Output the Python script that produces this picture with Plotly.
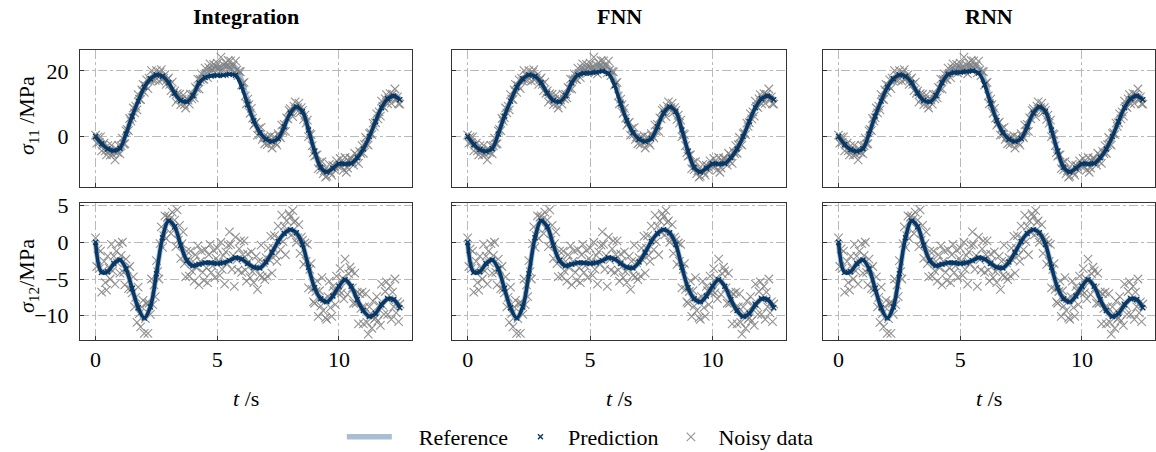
import plotly.graph_objects as go

# ---------------- data ----------------
t_curve = [round(0.25 * i, 2) for i in range(51)]      # 0 .. 12.5 s
t_noisy = [round(0.05 * i, 2) for i in range(251)]     # 0 .. 12.5 s

ref11 = [0.0, -2.3, -4.3, -5.0, -4.0, 0.8, 6.2, 10.8, 15.0, 17.6, 18.8, 18.4, 16.4,
         13.2, 11.0, 10.6, 12.5, 16.5, 19.6, 20.6, 20.9, 21.2, 21.6, 21.0, 17.0, 10.5,
         5.0, 1.2, -0.8, -1.5, -0.6, 3.0, 7.2, 9.0, 7.6, 2.0, -4.5, -9.4, -10.8, -9.7,
         -8.3, -8.4, -8.2, -6.5, -3.8, 0.0, 4.6, 8.8, 11.5, 12.4, 11.2]

pred11_integration = [0.0, -2.2, -3.8, -4.3, -3.6, 0.8, 6.2, 10.8, 15.0, 17.6, 18.8, 18.4,
                      16.4, 13.2, 11.0, 10.6, 12.5, 16.3, 18.0, 18.5, 18.6, 18.7, 19.0,
                      18.7, 15.2, 9.8, 4.8, 1.2, -0.8, -1.5, -0.6, 3.0, 7.2, 9.0, 7.6,
                      2.0, -4.5, -9.4, -10.8, -9.7, -8.3, -8.4, -8.2, -6.5, -3.8, 0.0,
                      4.6, 8.8, 11.5, 12.4, 11.2]

pred11_fnn = [0.0, -2.4, -4.0, -4.5, -3.7, 0.8, 6.2, 10.8, 15.0, 17.6, 18.8, 18.4, 16.4,
              13.2, 11.0, 10.6, 12.5, 16.4, 18.8, 19.3, 19.4, 19.6, 19.9, 19.2, 15.6,
              10.0, 4.9, 1.2, -0.8, -1.5, -0.6, 3.0, 7.2, 9.0, 7.6, 2.0, -4.5, -9.4,
              -10.8, -9.7, -8.3, -8.4, -8.2, -6.5, -3.8, 0.0, 4.6, 8.8, 11.5, 12.4, 11.2]

pred11_rnn = [0.0, -2.4, -4.0, -4.5, -3.7, 0.8, 6.2, 10.8, 15.0, 17.6, 18.8, 18.4, 16.4,
              13.2, 11.0, 10.6, 12.5, 16.4, 19.0, 19.5, 19.6, 19.8, 20.0, 19.4, 15.8,
              10.1, 4.9, 1.2, -0.8, -1.5, -0.6, 3.0, 7.2, 9.0, 7.6, 2.0, -4.5, -9.4,
              -10.8, -9.7, -8.3, -8.4, -8.2, -6.5, -3.8, 0.0, 4.6, 8.8, 11.5, 12.4, 11.2]

ref12 = [0.0, -4.0, -4.0, -2.9, -2.4, -3.6, -6.3, -8.9, -10.3, -8.8, -4.3, 0.6, 2.9,
         2.1, -0.4, -2.5, -3.2, -3.0, -2.8, -2.8, -2.9, -2.8, -2.5, -2.1, -2.3, -2.9,
         -3.4, -3.5, -2.7, -1.4, 0.1, 1.2, 1.7, 1.3, -0.3, -3.4, -6.2, -7.7, -8.1,
         -7.3, -6.0, -5.1, -6.0, -7.8, -9.3, -10.1, -9.7, -8.5, -7.7, -7.8, -8.9]

pred12_integration = [0.0, -4.1, -4.0, -2.9, -2.4, -3.6, -6.3, -8.9, -10.3, -8.8, -4.3,
                      0.6, 2.9, 2.1, -0.4, -2.5, -3.2, -3.0, -2.8, -2.8, -2.9, -2.8,
                      -2.5, -2.1, -2.3, -2.9, -3.4, -3.5, -2.7, -1.4, 0.1, 1.2, 1.7,
                      1.3, -0.3, -3.4, -6.2, -7.7, -8.1, -7.3, -6.0, -5.1, -6.0, -7.8,
                      -9.3, -10.1, -9.7, -8.5, -7.7, -7.8, -8.9]
pred12_fnn = list(pred12_integration)
pred12_rnn = list(pred12_integration)

noisy11 = [
    0.4, -2.0, -0.1, -1.8, -0.1, -4.4, -2.6, -2.0, -4.4, -5.6,
    -2.8, -4.4, -5.7, -2.7, -5.5, -4.3, -7.1, -3.8, -4.8, -2.7,
    -5.3, -2.8, -0.5, -2.3, -2.2, 1.7, 2.2, 1.8, 5.5, 4.7,
    5.8, 8.7, 7.2, 9.3, 8.1, 12.8, 11.4, 11.3, 14.2, 15.9,
    13.5, 15.5, 17.3, 14.6, 17.8, 16.9, 20.1, 17.2, 18.7, 17.1,
    20.1, 18.4, 16.9, 19.6, 20.4, 17.5, 17.8, 18.9, 15.9, 17.4,
    17.9, 15.9, 14.0, 16.6, 13.2, 13.9, 10.5, 13.1, 11.5, 12.9,
    9.7, 11.3, 12.6, 9.7, 8.7, 11.5, 11.1, 9.9, 12.9, 11.5,
    12.9, 11.8, 15.0, 14.6, 17.5, 14.5, 17.4, 19.1, 17.6, 17.4,
    20.9, 19.3, 18.0, 21.0, 22.2, 19.7, 20.4, 22.0, 19.4, 21.4,
    22.4, 21.1, 19.9, 24.2, 20.5, 21.9, 19.1, 22.4, 21.3, 23.2,
    21.2, 23.1, 20.6, 21.7, 19.4, 23.0, 20.3, 18.6, 19.9, 19.7,
    15.7, 16.3, 16.5, 12.4, 10.0, 11.4, 9.7, 7.1, 8.6, 5.6,
    3.5, 4.0, 4.4, 0.4, 2.4, 0.5, 2.8, -0.9, -0.1, -2.2,
    -0.4, -2.5, -0.3, -1.7, 0.3, -3.5, -1.3, -0.1, -2.0, -2.6,
    0.9, 0.1, -0.4, 3.5, 1.6, 3.7, 1.6, 5.7, 5.4, 8.0,
    8.5, 7.2, 6.1, 9.3, 10.6, 8.1, 8.8, 10.2, 7.4, 8.8,
    8.0, 5.2, 6.5, 4.1, 5.0, 0.0, 0.9, 0.6, -2.8, -4.9,
    -6.0, -5.7, -5.6, -9.8, -8.0, -10.1, -7.7, -11.3, -10.4, -12.4,
    -12.1, -10.2, -8.5, -11.0, -11.8, -8.8, -9.1, -10.3, -7.4, -9.0,
    -8.7, -6.7, -9.1, -8.0, -10.2, -6.4, -10.9, -9.6, -7.4, -6.6,
    -6.7, -7.8, -8.7, -5.1, -7.5, -5.8, -8.2, -4.5, -5.2, -2.8,
    -5.1, -2.5, -0.3, -2.3, -2.6, 0.9, 1.2, 0.6, 4.1, 3.1,
    4.2, 6.9, 5.4, 7.5, 6.2, 10.8, 9.2, 8.8, 11.5, 12.8,
    10.0, 11.7, 13.1, 10.1, 12.9, 11.7, 14.5, 11.1, 12.1, 10.0,
    9.9]

noisy12 = [
    0.6, -3.3, -0.9, -3.6, -1.2, -6.8, -3.9, -2.6, -5.5, -6.5,
    -1.9, -3.5, -5.0, -0.3, -3.9, -1.9, -5.7, -1.2, -2.8, -0.2,
    -4.2, -1.8, 0.0, -4.1, -5.8, -2.3, -3.7, -6.3, -3.3, -6.4,
    -6.9, -4.7, -8.8, -7.5, -10.9, -6.1, -9.7, -11.5, -8.8, -7.9,
    -12.4, -10.4, -8.3, -12.4, -8.3, -9.8, -5.0, -8.5, -5.8, -7.4,
    -2.5, -4.0, -5.0, -0.2, 2.1, -0.7, 0.9, 3.6, 0.5, 3.4,
    3.6, 3.1, 1.2, 4.1, 1.9, 3.0, -0.6, 4.4, 0.3, 2.3,
    -2.2, -0.2, 1.4, -2.9, -4.7, -1.2, -2.3, -4.6, -1.2, -3.9,
    -2.6, -5.3, -1.7, -3.5, -0.5, -5.8, -2.6, -1.2, -4.1, -5.2,
    -1.0, -3.5, -5.5, -1.7, -0.3, -4.1, -3.2, -1.1, -4.8, -2.2,
    -0.8, -2.7, -4.5, 0.0, -3.7, -1.8, -5.7, -1.3, -2.9, -0.4,
    1.4, -0.3, -3.7, -1.8, -6.0, 0.7, -2.4, -3.8, -0.9, 0.2,
    -4.1, -1.7, 0.2, -3.8, -5.3, -1.6, -2.6, -4.8, -1.3, -4.0,
    -5.5, -3.6, -1.9, -6.4, -2.6, -4.5, -0.4, -4.7, -2.8, -5.1,
    -2.1, -4.6, -0.8, -2.4, 0.8, -4.2, -0.8, 0.9, -1.8, -2.6,
    2.2, 0.5, -1.0, 3.7, 0.1, 2.2, -1.7, 2.9, 1.3, 3.9,
    3.5, 1.0, 4.3, 2.7, 2.9, 0.0, 0.6, 2.4, -1.5, 0.7,
    0.3, -3.0, -0.1, -2.6, -0.3, -6.2, -3.7, -2.9, -6.4, -8.1,
    -8.3, -6.7, -5.3, -10.1, -6.6, -8.7, -4.8, -9.3, -7.7, -10.3,
    -10.5, -7.4, -5.3, -8.9, -10.1, -6.0, -6.6, -8.5, -4.6, -6.9,
    -6.6, -3.6, -6.9, -4.9, -7.7, -2.3, -5.5, -7.1, -4.3, -3.4,
    -3.9, -6.2, -8.3, -4.2, -8.3, -6.8, -11.1, -7.0, -9.0, -6.8,
    -11.1, -8.8, -7.0, -10.9, -12.5, -8.8, -9.7, -11.7, -8.0, -10.5,
    -10.3, -7.4, -10.7, -8.6, -11.3, -5.7, -8.6, -9.8, -6.7, -5.4,
    -9.8, -7.8, -6.0, -10.5, -6.8, -8.8, -5.0, -9.6, -8.1, -10.8,
    -8.4]

models = ["Integration", "FNN", "RNN"]
pred11 = [pred11_integration, pred11_fnn, pred11_rnn]
pred12 = [pred12_integration, pred12_fnn, pred12_rnn]
x_ticks = [0, 5, 10]
y11_ticks = [0, 20]
y12_ticks = [-10, -5, 0, 5]

# ---------------- styling ----------------
W, H = 1156, 452
FONT = "Liberation Serif"
REF_C = "#a9bdd3"
PRED_C = "#083866"
NOISE_C = "#8a8a8a"
LINE_C = "#333333"
GRID_C = "#b9b9b9"

xpix = [(80, 412), (452, 786), (823, 1155)]
ypix = [(50, 187), (203.3, 340)]
xd = [(a / W, b / W) for a, b in xpix]
yd = [(1 - b / H, 1 - a / H) for a, b in ypix]
yranges = [[-15.4, 26.4], [-13.3, 5.3]]
yticks = [y11_ticks, y12_ticks]

fig = go.Figure()
shown = set()
for row in range(2):
    for col in range(3):
        k = row * 3 + col + 1
        xa = "x" if k == 1 else f"x{k}"
        ya = "y" if k == 1 else f"y{k}"
        noisy = noisy11 if row == 0 else noisy12
        ref = ref11 if row == 0 else ref12
        pred = pred11[col] if row == 0 else pred12[col]
        fig.add_trace(go.Scatter(
            x=t_curve, y=ref, mode="lines", xaxis=xa, yaxis=ya,
            name="\u2003Reference", legendgroup="ref", legendrank=1,
            showlegend="ref" not in shown,
            line=dict(color=REF_C, width=5.5, shape="spline")))
        shown.add("ref")
        fig.add_trace(go.Scatter(
            x=t_noisy, y=noisy, mode="markers", xaxis=xa, yaxis=ya,
            name="Noisy data", legendgroup="noisy", legendrank=3,
            showlegend="noisy" not in shown,
            marker=dict(symbol="x-thin", size=8.5, color=NOISE_C,
                        line=dict(color="rgba(128,128,128,0.85)", width=1.1))))
        shown.add("noisy")
        fig.add_trace(go.Scatter(
            x=t_curve, y=pred, mode="lines", xaxis=xa, yaxis=ya,
            showlegend=False, legendgroup="pred", hoverinfo="skip",
            line=dict(color=PRED_C, width=3.6, shape="spline")))
        fig.add_trace(go.Scatter(
            x=t_curve, y=pred, mode="markers", xaxis=xa, yaxis=ya,
            name="Prediction", legendgroup="pred", legendrank=2,
            showlegend="pred" not in shown,
            marker=dict(symbol="x-thin", size=5, color=PRED_C,
                        line=dict(color=PRED_C, width=1.4))))
        shown.add("pred")

        axis_common = dict(showline=True, mirror=True, linecolor=LINE_C, linewidth=1,
                           ticks="inside", ticklen=4, tickcolor=LINE_C,
                           showgrid=True, gridcolor=GRID_C, griddash="dashdot",
                           gridwidth=1, zeroline=False, automargin=False,
                           tickfont=dict(family=FONT, size=22, color="black"))
        fig.layout[f"xaxis{'' if k == 1 else k}"] = dict(
            domain=list(xd[col]), anchor=ya, range=[-0.64, 13.0],
            tickvals=x_ticks, showticklabels=(row == 1), **axis_common)
        fig.layout[f"yaxis{'' if k == 1 else k}"] = dict(
            domain=list(yd[row]), anchor=xa, range=yranges[row],
            tickvals=yticks[row], showticklabels=(col == 0),
            ticklabelstandoff=6, **axis_common)

txt_font = dict(family=FONT, size=22, color="black")
ann = []
centers = [(a + b) / 2 for a, b in xpix]
for col, m in enumerate(models):
    ann.append(dict(text=f"<b>{m}</b>", x=centers[col] / W, y=1 - 16 / H,
                    xref="paper", yref="paper", showarrow=False,
                    xanchor="center", yanchor="middle", font=txt_font))
    ann.append(dict(text="<i>t</i> /s", x=centers[col] / W, y=1 - 398 / H,
                    xref="paper", yref="paper", showarrow=False,
                    xanchor="center", yanchor="middle", font=txt_font))
ann.append(dict(text="<i>σ</i><sub>11</sub> /MPa", x=28 / W, y=1 - 116 / H,
                xref="paper", yref="paper", showarrow=False, textangle=-90,
                xanchor="center", yanchor="middle", font=txt_font))
ann.append(dict(text="<i>σ</i><sub>12</sub>/MPa", x=28 / W, y=1 - 276 / H,
                xref="paper", yref="paper", showarrow=False, textangle=-90,
                xanchor="center", yanchor="middle", font=txt_font))

fig.update_layout(
    width=W, height=H, margin=dict(l=0, r=0, t=0, b=0, autoexpand=False),
    paper_bgcolor="white", plot_bgcolor="white",
    font=txt_font,
    annotations=ann,
    legend=dict(orientation="h", x=0.502, xanchor="center", y=1 - 437 / H,
                yanchor="middle", itemwidth=45, traceorder="normal",
                font=txt_font, bgcolor="rgba(0,0,0,0)"),
)

fig.write_html("out.html",
               config={"displayModeBar": False},
               post_script="document.body.style.margin='0px';"
                           "document.body.style.overflow='hidden';")
